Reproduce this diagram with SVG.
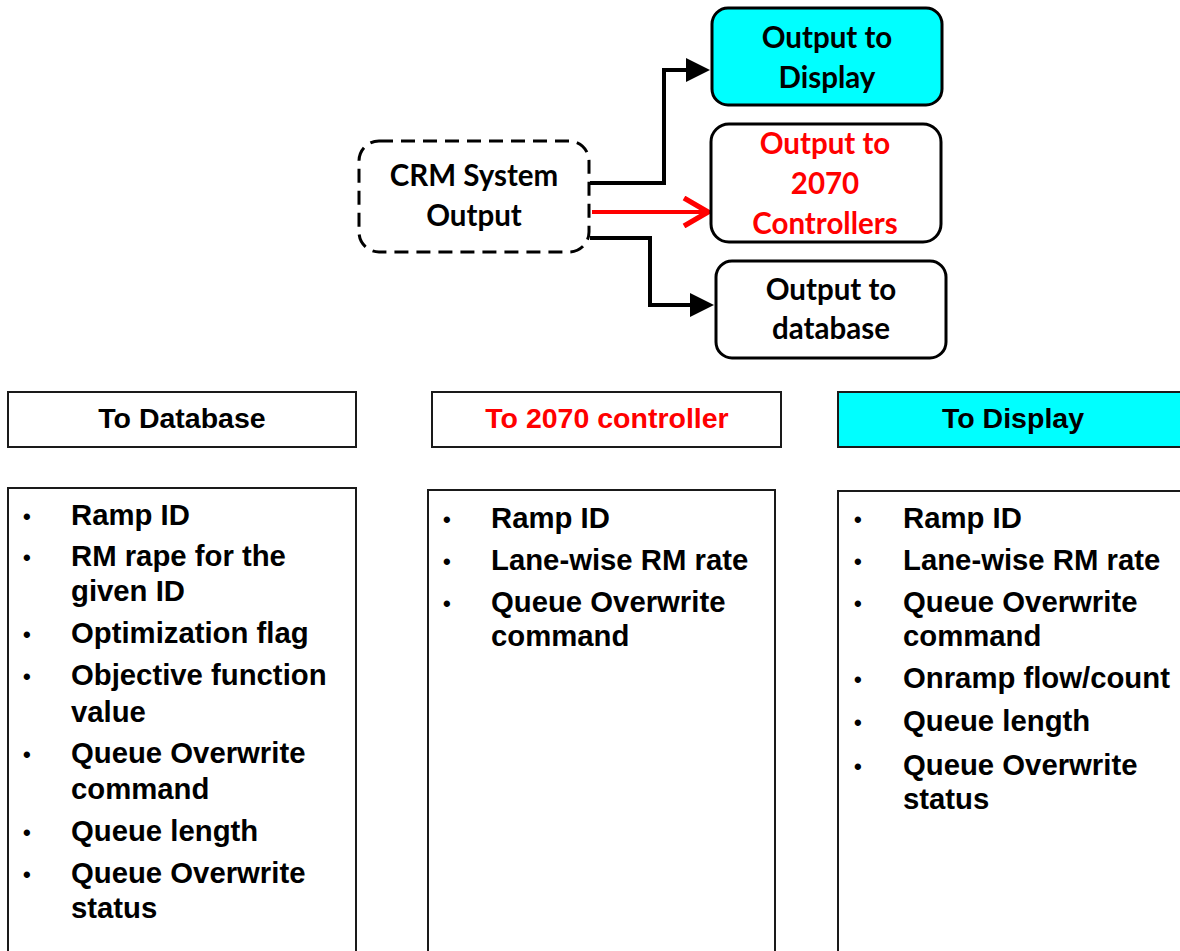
<svg xmlns="http://www.w3.org/2000/svg" width="1180" height="951" viewBox="0 0 1180 951">
<style>
.nb{fill:#fff;stroke:#000;stroke-width:3}
.cy{fill:#00ffff}
.tt{font-family:Lato,"Open Sans",sans-serif;font-weight:bold;font-size:29.5px;text-anchor:middle;fill:#000}
.hb{fill:#fff;stroke:#1a1a1a;stroke-width:2}
.li{font-family:"Liberation Sans",Arial,sans-serif;font-weight:bold;font-size:29.3px;fill:#000}
.bu{font-size:22px}
.hd{font-family:"Liberation Sans",Arial,sans-serif;font-weight:bold;font-size:28.5px;text-anchor:middle;fill:#000}
.cn{fill:none;stroke:#000;stroke-width:4}
.red{fill:#ff0000}
</style>
<defs>
<marker id="ab" markerWidth="6" markerHeight="6" refX="5" refY="3" orient="auto" markerUnits="strokeWidth"><path d="M0,0 L6,3 L0,6 z" fill="#000"/></marker>
<marker id="ar" markerWidth="8" markerHeight="8" refX="7" refY="4" orient="auto" markerUnits="strokeWidth"><path d="M1,0.5 L7,4 L1,7.5" fill="none" stroke="#ff0000" stroke-width="1.3"/></marker>
</defs>
<g id="connectors">
<path class="cn" d="M590,183 H664 V70 H706" marker-end="url(#ab)"/>
<path d="M592,212 H708" fill="none" stroke="#ff0000" stroke-width="4" marker-end="url(#ar)"/>
<path class="cn" d="M590,238 H650 V305 H710" marker-end="url(#ab)"/>
</g>
<g id="crm">
<rect x="359" y="141" width="230" height="111" rx="20" fill="#fff" stroke="#000" stroke-width="3" stroke-dasharray="14,8"/>
<text class="tt" x="474" y="186">CRM System</text>
<text class="tt" x="474" y="226">Output</text>
</g>
<g id="out-display">
<rect class="nb cy" x="712" y="8" width="230" height="97" rx="16"/>
<text class="tt" x="827" y="48">Output to</text>
<text class="tt" x="827" y="88">Display</text>
</g>
<g id="out-2070">
<rect class="nb" x="711" y="124" width="230" height="118" rx="18"/>
<text class="tt red" x="825" y="154">Output to</text>
<text class="tt red" x="825" y="194">2070</text>
<text class="tt red" x="825" y="234">Controllers</text>
</g>
<g id="out-db">
<rect class="nb" x="716" y="261" width="230" height="97" rx="16"/>
<text class="tt" x="831" y="300">Output to</text>
<text class="tt" x="831" y="339">database</text>
</g>
<g id="hdr-db">
<rect class="hb" x="8" y="392" width="348" height="55"/>
<text class="hd" x="182" y="428">To Database</text>
</g>
<g id="hdr-2070">
<rect class="hb" x="432" y="392" width="349" height="55"/>
<text class="hd red" x="607" y="428">To 2070 controller</text>
</g>
<g id="hdr-display">
<rect class="hb" x="838" y="392" width="345" height="55" style="fill:#00ffff"/>
<text class="hd" x="1013" y="428">To Display</text>
</g>
<g id="list-db">
<rect class="hb" x="8" y="488" width="348" height="470"/>
<g class="li">
<text class="bu" x="23" y="524">•</text><text x="71" y="525">Ramp ID</text>
<text class="bu" x="23" y="565">•</text><text x="71" y="566">RM rape for the</text>
<text x="71" y="601">given ID</text>
<text class="bu" x="23" y="642">•</text><text x="71" y="643">Optimization flag</text>
<text class="bu" x="23" y="684">•</text><text x="71" y="685">Objective function</text>
<text x="71" y="722">value</text>
<text class="bu" x="23" y="762">•</text><text x="71" y="763">Queue Overwrite</text>
<text x="71" y="799">command</text>
<text class="bu" x="23" y="840">•</text><text x="71" y="841">Queue length</text>
<text class="bu" x="23" y="882">•</text><text x="71" y="883">Queue Overwrite</text>
<text x="71" y="918">status</text>
</g>
</g>
<g id="list-2070">
<rect class="hb" x="428" y="490" width="347" height="470"/>
<g class="li">
<text class="bu" x="443" y="527">•</text><text x="491" y="528">Ramp ID</text>
<text class="bu" x="443" y="569">•</text><text x="491" y="570">Lane-wise RM rate</text>
<text class="bu" x="443" y="611">•</text><text x="491" y="612">Queue Overwrite</text>
<text x="491" y="646">command</text>
</g>
</g>
<g id="list-display">
<rect class="hb" x="838" y="491" width="345" height="470"/>
<g class="li">
<text class="bu" x="854" y="527">•</text><text x="903" y="528">Ramp ID</text>
<text class="bu" x="854" y="569">•</text><text x="903" y="570">Lane-wise RM rate</text>
<text class="bu" x="854" y="611">•</text><text x="903" y="612">Queue Overwrite</text>
<text x="903" y="646">command</text>
<text class="bu" x="854" y="687">•</text><text x="903" y="688">Onramp flow/count</text>
<text class="bu" x="854" y="730">•</text><text x="903" y="731">Queue length</text>
<text class="bu" x="854" y="774">•</text><text x="903" y="775">Queue Overwrite</text>
<text x="903" y="809">status</text>
</g>
</g>
</svg>
